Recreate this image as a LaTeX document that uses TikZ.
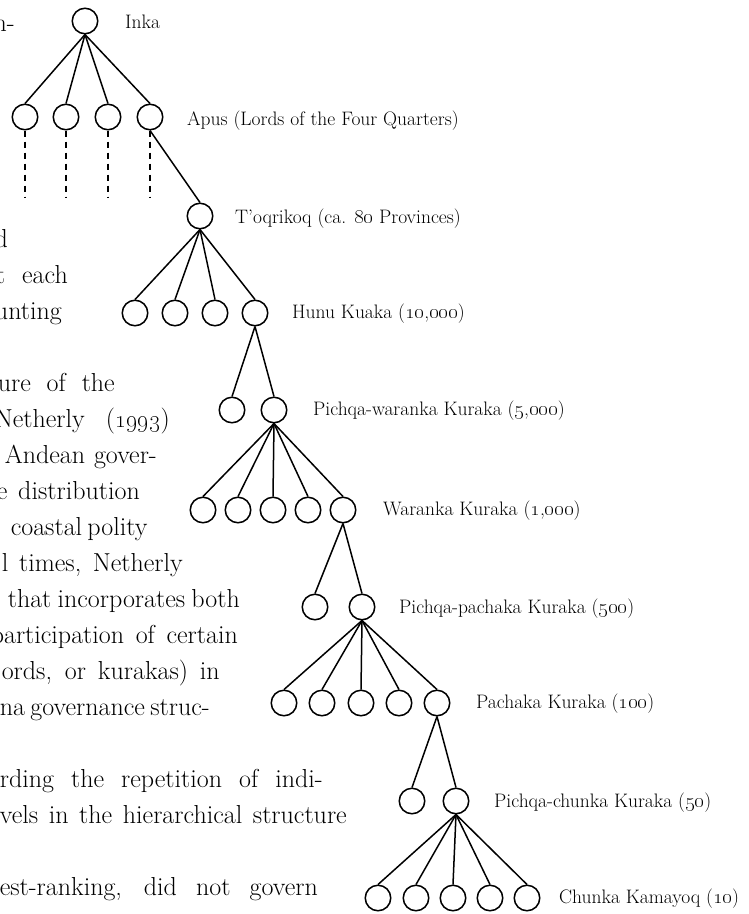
\documentclass[tikz,border=0pt]{standalone}
\usepackage{tikz}

\tikzset{
  kn/.style={circle, draw, line width=1.5pt, minimum size=25.5pt, inner sep=0pt},
  link/.style={line width=1.5pt},
  lab/.style={anchor=base west, inner sep=0pt, font=\fontsize{19.5}{22}\selectfont},
  body/.style={anchor=base east, inner sep=0pt, font=\fontsize{26}{30}\selectfont}
}
\newcommand{\jline}[2]{\hbox to #1pt{#2}}

\begin{document}
\begin{tikzpicture}[x=1pt, y=-1pt]
\clip (0,0) rectangle (748,914);
\fill [white] (0,0) rectangle (748,914);

% running text, cut at the left edge
\node [body] (t1) at (15,31) {n-};
\node [body] (t2) at (8,247) {d};
\node [body] (t3) at (68,283) {\jline{72}{t each}};
\node [body] (t4) at (62,319) {unting};
\node [body] (t5) at (115,391) {\jline{117}{ure of the}};
\node [body] (t6) at (170,427) {\jline{175}{Netherly (\oldstylenums{1993})}};
\node [body] (t7) at (157,463) {\jline{152}{Andean gover-}};
\node [body] (t8) at (140,499) {\jline{143}{e distribution}};
\node [body] (t9) at (147,535) {\jline{136}{coastal polity}};
\node [body] (t10) at (183,571) {\jline{181}{l times, Netherly}};
\node [body] (t11) at (240,607) {\jline{232}{that incorporates both}};
\node [body] (t12) at (238,643) {\jline{247}{participation of certain}};
\node [body] (t13) at (220,679) {\jline{218}{ords, or kurakas) in}};
\node [body] (t14) at (210,715) {\jline{210}{na governance struc-}};
\node [body] (t15) at (323,787) {\jline{323}{rding the repetition of indi-}};
\node [body] (t16) at (347,823) {\jline{347}{vels in the hierarchical structure}};
\node [body] (t17) at (318,895) {\jline{318}{est-ranking, did not govern}};

% tree
\node [kn] (inka) at (85,21) {};
\node [kn] (apu1) at (25,117) {};
\node [kn] (apu2) at (66,117) {};
\node [kn] (apu3) at (108,117) {};
\node [kn] (apu4) at (150,117) {};
\node [kn] (toq) at (200,216) {};
\node [kn] (hun1) at (135,313) {};
\node [kn] (hun2) at (175,313) {};
\node [kn] (hun3) at (215,313) {};
\node [kn] (hun4) at (255,313) {};
\node [kn] (pw1) at (232,410) {};
\node [kn] (pw2) at (274,410) {};
\node [kn] (war1) at (203,510) {};
\node [kn] (war2) at (238,510) {};
\node [kn] (war3) at (273,510) {};
\node [kn] (war4) at (308,510) {};
\node [kn] (war5) at (343,510) {};
\node [kn] (pp1) at (315,607) {};
\node [kn] (pp2) at (362,607) {};
\node [kn] (pac1) at (284,703) {};
\node [kn] (pac2) at (322,703) {};
\node [kn] (pac3) at (361,703) {};
\node [kn] (pac4) at (399,703) {};
\node [kn] (pac5) at (437,703) {};
\node [kn] (pc1) at (412,801) {};
\node [kn] (pc2) at (456,801) {};
\node [kn] (chu1) at (378,898) {};
\node [kn] (chu2) at (416,898) {};
\node [kn] (chu3) at (453,898) {};
\node [kn] (chu4) at (490,898) {};
\node [kn] (chu5) at (527,898) {};

\coordinate (d1) at (25,197);
\coordinate (d2) at (66,197);
\coordinate (d3) at (108,197);
\coordinate (d4) at (150,197);

\draw [link] (inka.south) -- (apu1.north);
\draw [link] (inka.south) -- (apu2.north);
\draw [link] (inka.south) -- (apu3.north);
\draw [link] (inka.south) -- (apu4.north);
\draw [link] [dash pattern=on 6pt off 5pt] (apu1.south) -- (d1);
\draw [link] [dash pattern=on 6pt off 5pt] (apu2.south) -- (d2);
\draw [link] [dash pattern=on 6pt off 5pt] (apu3.south) -- (d3);
\draw [link] [dash pattern=on 6pt off 5pt] (apu4.south) -- (d4);
\draw [link] (apu4.south) -- (toq.north);
\draw [link] (toq.south) -- (hun1.north);
\draw [link] (toq.south) -- (hun2.north);
\draw [link] (toq.south) -- (hun3.north);
\draw [link] (toq.south) -- (hun4.north);
\draw [link] (hun4.south) -- (pw1.north);
\draw [link] (hun4.south) -- (pw2.north);
\draw [link] (pw2.south) -- (war1.north);
\draw [link] (pw2.south) -- (war2.north);
\draw [link] (pw2.south) -- (war3.north);
\draw [link] (pw2.south) -- (war4.north);
\draw [link] (pw2.south) -- (war5.north);
\draw [link] (war5.south) -- (pp1.north);
\draw [link] (war5.south) -- (pp2.north);
\draw [link] (pp2.south) -- (pac1.north);
\draw [link] (pp2.south) -- (pac2.north);
\draw [link] (pp2.south) -- (pac3.north);
\draw [link] (pp2.south) -- (pac4.north);
\draw [link] (pp2.south) -- (pac5.north);
\draw [link] (pac5.south) -- (pc1.north);
\draw [link] (pac5.south) -- (pc2.north);
\draw [link] (pc2.south) -- (chu1.north);
\draw [link] (pc2.south) -- (chu2.north);
\draw [link] (pc2.south) -- (chu3.north);
\draw [link] (pc2.south) -- (chu4.north);
\draw [link] (pc2.south) -- (chu5.north);

\node [lab] (linka) at (125,28) {Inka};
\node [lab] (lapu) at (187,125) {Apus (Lords of the Four Quarters)};
\node [lab] (ltoq) at (235,223) {T’oqrikoq (ca. \oldstylenums{80} Provinces)};
\node [lab] (lhun) at (292,318) {Hunu Kuaka (\oldstylenums{10},\oldstylenums{000})};
\node [lab] (lpw) at (313,415) {Pichqa-waranka Kuraka (\oldstylenums{5},\oldstylenums{000})};
\node [lab] (lwar) at (383,515) {Waranka Kuraka (\oldstylenums{1},\oldstylenums{000})};
\node [lab] (lpp) at (399,613) {Pichqa-pachaka Kuraka (\oldstylenums{500})};
\node [lab] (lpac) at (476,708) {Pachaka Kuraka (\oldstylenums{100})};
\node [lab] (lpc) at (494,807) {Pichqa-chunka Kuraka (\oldstylenums{50})};
\node [lab] (lchu) at (559,903) {Chunka Kamayoq (\oldstylenums{10})};

%\draw [very thin, gray] (0,0) grid [step=50] (748,914);
\end{tikzpicture}
\end{document}
